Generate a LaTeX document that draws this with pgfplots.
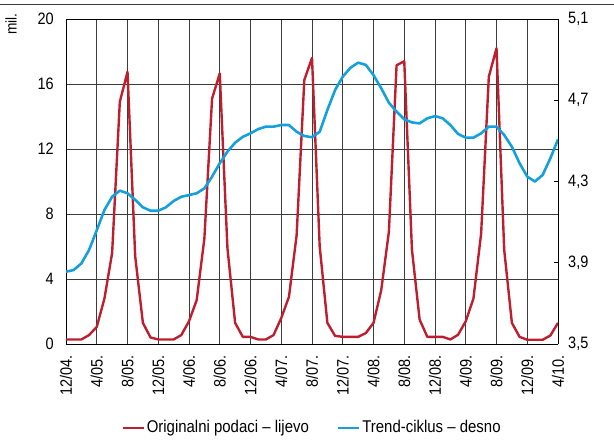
\documentclass[border=0pt]{standalone}
\usepackage{pgfplots}
\pgfplotsset{compat=1.18}
\usepackage{fontspec}
\setmainfont{Liberation Sans}[FakeStretch=0.88]
\definecolor{cred}{RGB}{190,30,45}
\definecolor{cblue}{RGB}{20,160,220}
\definecolor{gridc}{RGB}{60,60,60}
\begin{document}
\fontsize{16.5bp}{19bp}\selectfont
\begin{tikzpicture}
\begin{axis}[
  scale only axis, width=492bp, height=325bp,
  xmin=0, xmax=64, ymin=0, ymax=20,
  axis y line*=left,
  xtick={0,4,...,64},
  xticklabels={12/04.,4/05.,8/05.,12/05.,4/06.,8/06.,12/06.,4/07.,8/07.,12/07.,4/08.,8/08.,12/08.,4/09.,8/09.,12/09.,4/10.},
  ytick={0,4,8,12,16,20},
  major tick length=0pt,
  grid=major,
  major grid style={gridc, line width=0.8pt},
  axis line style={black, line width=0.8pt},
  tick label style={font=\fontsize{16.5bp}{19bp}\selectfont},
  xticklabel style={rotate=90, anchor=east, inner sep=0pt},
  xticklabel shift=11bp,
  yticklabel style={inner sep=0pt},
  yticklabel shift=12bp,
  /pgf/number format/assume math mode=true,
  clip=false,
]
\addplot[cred, line width=2.4pt, line join=round] coordinates {
(0,0.28)(1,0.28)(2,0.28)(3,0.55)(4,1.05)(5,2.8)(6,5.6)(7,14.9)(8,16.75)(9,5.4)
(10,1.3)(11,0.4)(12,0.28)(13,0.28)(14,0.28)(15,0.55)(16,1.4)(17,2.7)(18,6.5)(19,15.1)
(20,16.65)(21,5.9)(22,1.3)(23,0.44)(24,0.44)(25,0.28)(26,0.28)(27,0.55)(28,1.6)(29,2.9)
(30,6.7)(31,16.25)(32,17.6)(33,6.0)(34,1.3)(35,0.5)(36,0.44)(37,0.44)(38,0.44)(39,0.67)
(40,1.3)(41,3.3)(42,6.9)(43,17.15)(44,17.4)(45,5.8)(46,1.5)(47,0.44)(48,0.44)(49,0.44)
(50,0.28)(51,0.57)(52,1.4)(53,2.8)(54,6.8)(55,16.45)(56,18.2)(57,5.8)(58,1.3)(59,0.44)
(60,0.26)(61,0.26)(62,0.26)(63,0.52)(64,1.3)
};
\draw[gridc, line width=0.8pt] (rel axis cs:-0.13415,1.046) -- (rel axis cs:1.11382,1.046);
\node[rotate=90, anchor=east, inner sep=0pt, font=\fontsize{15.5bp}{18bp}\selectfont] at (rel axis cs:-0.112,1.018) {mil.};
\coordinate (bl) at (rel axis cs:-0.13415,-0.29846);
\coordinate (tr) at (rel axis cs:1.11382,1.05846);
\end{axis}
\begin{axis}[
  scale only axis, width=492bp, height=325bp,
  xmin=0, xmax=64, ymin=3.5, ymax=5.1,
  axis y line*=right, axis x line=none,
  ytick={3.5,3.9,4.3,4.7,5.1},
  major tick length=4.5bp,
  tick align=inside,
  tick style={black, line width=0.8pt},
  axis line style={black, line width=0.8pt},
  tick label style={font=\fontsize{16.5bp}{19bp}\selectfont},
  yticklabel style={inner sep=0pt, /pgf/number format/.cd, fixed, fixed zerofill, precision=1, use comma},
  yticklabel shift=10bp,
  /pgf/number format/assume math mode=true,
  legend style={at={(0.5,-0.258)}, anchor=center, draw=none, fill=none, legend columns=2,
    font=\fontsize{17bp}{19bp}\selectfont,
    /tikz/every even column/.append style={column sep=26bp}},
  legend image code/.code={\draw[#1, line width=2.4pt] (0bp,0bp) -- (21bp,0bp);},
]
\addlegendimage{cred}
\addlegendentry{Originalni podaci -- lijevo}
\addplot[cblue, line width=2.6pt, line join=round] coordinates {
(0,3.856)(1,3.864)(2,3.897)(3,3.963)(4,4.06)(5,4.16)(6,4.225)(7,4.255)(8,4.242)(9,4.21)
(10,4.173)(11,4.156)(12,4.156)(13,4.173)(14,4.204)(15,4.225)(16,4.233)(17,4.242)(18,4.266)(19,4.324)
(20,4.39)(21,4.447)(22,4.491)(23,4.52)(24,4.537)(25,4.558)(26,4.57)(27,4.57)(28,4.578)(29,4.578)
(30,4.545)(31,4.524)(32,4.518)(33,4.545)(34,4.652)(35,4.75)(36,4.816)(37,4.86)(38,4.885)(39,4.874)
(40,4.824)(41,4.759)(42,4.688)(43,4.644)(44,4.606)(45,4.591)(46,4.586)(47,4.611)(48,4.622)(49,4.611)
(50,4.578)(51,4.534)(52,4.516)(53,4.516)(54,4.537)(55,4.57)(56,4.57)(57,4.529)(58,4.471)(59,4.39)
(60,4.324)(61,4.3)(62,4.332)(63,4.414)(64,4.507)
};
\addlegendentry{Trend-ciklus -- desno}
\end{axis}
\pgfresetboundingbox
\path (bl) rectangle (tr);
\end{tikzpicture}
\end{document}
